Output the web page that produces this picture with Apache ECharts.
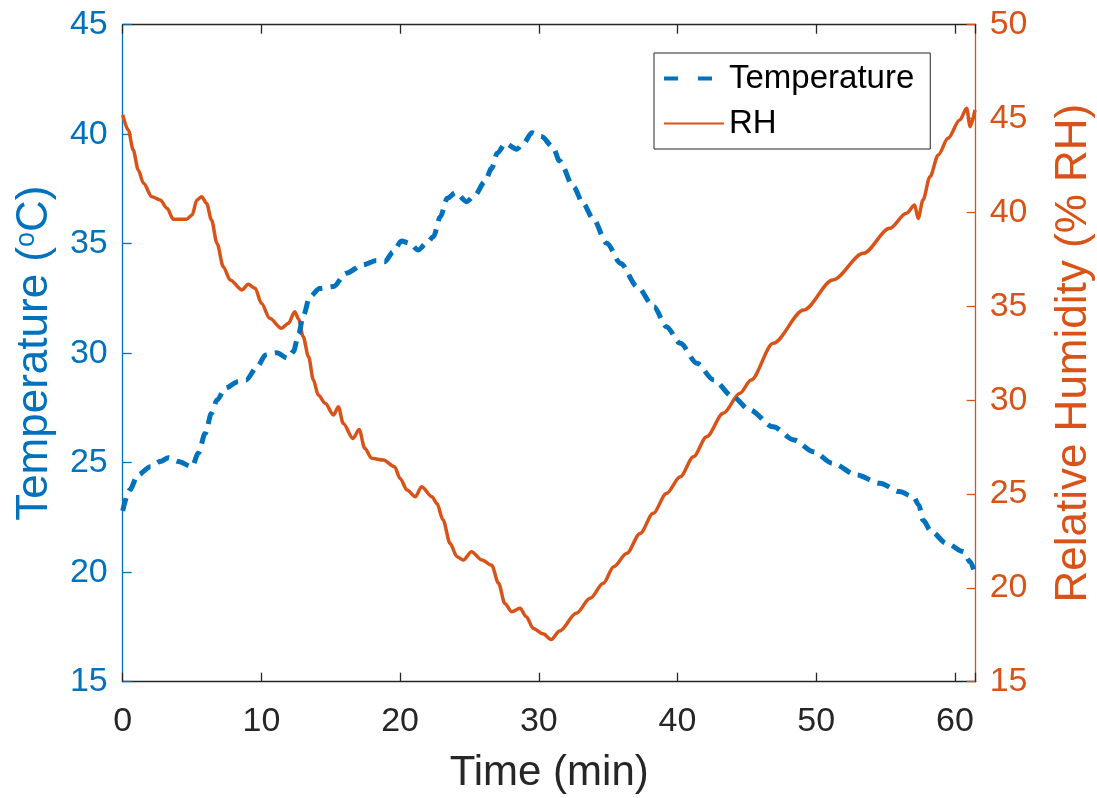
<!DOCTYPE html>
<html>
<head>
<meta charset="utf-8">
<script src="https://cdn.jsdelivr.net/npm/echarts@6/dist/echarts.min.js"></script>
<style>
html,body{margin:0;padding:0;background:#fff;}
#chart{width:1097px;height:798px;}
</style>
</head>
<body>
<div id="chart"></div>
<script>
// ---- Data ----
const tempTime = [0,0.5,1.1,2.0,2.7,3.3,4.0,5.0,5.45,5.95,6.4,6.8,7.4,8.3,8.9,9.7,10.3,11.1,11.9,12.3,12.7,13.0,13.5,14.2,15.2,16.1,17.3,18.3,18.9,19.5,20.1,20.7,21.3,21.9,22.4,22.9,23.4,24.0,24.8,25.4,26.1,26.6,27.0,27.6,28.4,28.9,29.5,30.2,31.0,31.5,32.5,33.2,33.9,34.9,35.9,37.1,38.3,39.2,40.2,41.4,42.6,44.0,45.2,46.9,48.4,49.8,51.2,52.9,54.6,56.0,57.0,57.4,57.7,58.3,59.4,60.6,61.1,61.5];
const tempValues = [22.8,23.75,24.44,24.82,25.05,25.23,25.05,24.82,25.43,26.34,27.26,27.86,28.4,28.7,28.78,29.38,29.92,30.02,29.77,30.07,30.91,31.67,32.58,32.96,33.04,33.65,34.03,34.23,34.18,34.63,35.12,35.02,34.71,35.02,35.32,36.23,37.07,37.33,36.92,37.22,37.83,38.44,39.13,39.58,39.31,39.58,40.07,39.89,39.43,38.78,37.6,36.84,36.16,35.02,34.1,33.04,32.12,31.21,30.45,29.54,28.78,28.01,27.41,26.64,26.04,25.5,24.97,24.44,24.06,23.68,23.45,23.07,22.38,21.85,21.32,20.94,20.48,19.8];

const rhTime = [0,0.4,0.76,1.12,1.5,2.1,2.7,3.2,3.65,4.6,5.0,5.35,5.7,6.05,6.4,6.8,7.25,7.75,8.6,9.05,9.55,10.0,10.6,11.45,11.95,12.4,12.7,13.0,13.4,13.75,14.1,14.6,15.2,15.55,15.9,16.6,17.05,17.45,17.95,18.8,19.6,20.0,20.5,21.1,21.55,22.3,22.65,23.1,23.6,24.1,24.55,25.15,25.9,26.6,27.1,27.55,28.05,28.65,29.1,29.6,30.3,30.9,31.5,32.7,33.7,34.65,35.4,36.35,37.3,38.25,39.2,40.2,41.15,42.1,43.3,44.5,45.3,46.9,49.1,51.2,53.4,55.3,56.5,57.1,57.35,57.7,58.2,58.8,59.5,60.35,60.85,61.1,61.45];
const rhValues = [45.2,44.39,43.32,42.26,41.55,40.84,40.66,40.22,39.63,39.63,39.86,40.66,40.84,40.48,39.6,38.35,37.11,36.4,35.87,36.17,35.96,35.16,34.36,33.83,34.09,34.71,34.3,33.4,32.31,31.07,30.27,29.83,29.21,29.65,28.76,27.96,28.44,27.43,26.9,26.81,26.45,25.83,25.21,24.85,25.39,24.85,24.5,23.61,22.37,21.66,21.48,21.92,21.48,21.21,20.24,19.17,18.73,18.91,18.46,17.84,17.55,17.25,17.7,18.64,19.44,20.24,21.12,21.84,22.9,23.97,25.03,25.92,26.98,28.05,29.3,30.36,31.07,33.03,34.8,36.4,37.82,39.15,39.95,40.39,39.68,40.66,41.9,43.06,43.95,44.92,45.55,44.57,45.46];

const xTickValues = [0,10,20,30,40,50,60];
const seriesNames = ['Temperature','RH'];

// ---- Chart ----
const FONT = 'Liberation Sans, Arial, Helvetica, sans-serif';
const BLUE = '#0072BD', ORANGE = '#D95319', DARK = '#262626';
const tempData = tempTime.map((t,i)=>[t,tempValues[i]]);
const rhData = rhTime.map((t,i)=>[t,rhValues[i]]);

const chart = echarts.init(document.getElementById('chart'), null, {renderer:'canvas'});
const xCommon = {
  type:'value', min:0, max:61.5, interval:10,
  splitLine:{show:false},
  axisLine:{show:true, onZero:false, lineStyle:{color:DARK, width:1.3}},
  axisTick:{show:true, inside:true, length:9, lineStyle:{color:DARK, width:1.3}}
};
chart.setOption({
  animation:false,
  backgroundColor:'#fff',
  textStyle:{fontFamily:FONT},
  grid:{left:122.7, right:121.3, top:24.7, bottom:116.3, containLabel:false, outerBoundsMode:'none'},
  legend:{
    orient:'vertical', left:654, top:53,
    padding:[9,16,9,8], itemGap:12, itemWidth:60, itemHeight:14,
    borderColor:DARK, borderWidth:1, backgroundColor:'#fff', borderRadius:0,
    textStyle:{fontSize:33, color:'#000', fontFamily:FONT},
    data:[
      {name:'Temperature', itemStyle:{opacity:0}, lineStyle:{type:[14,20], width:4, color:BLUE}},
      {name:'RH', itemStyle:{opacity:0}, lineStyle:{width:2, color:ORANGE}}
    ]
  },
  xAxis:[
    Object.assign({}, xCommon, {
      position:'bottom',
      axisLabel:{show:true, margin:23, fontSize:34, color:DARK, fontFamily:FONT,
        formatter:(v)=> xTickValues.indexOf(v) >= 0 ? String(v) : ''},
      name:'Time (min)', nameLocation:'middle', nameGap:71,
      nameTextStyle:{fontSize:42, color:DARK, fontFamily:FONT}
    }),
    Object.assign({}, xCommon, {position:'top', axisLabel:{show:false}})
  ],
  yAxis:[
    {
      type:'value', min:15, max:45, interval:5, position:'left',
      splitLine:{show:false},
      axisLine:{show:true, onZero:false, lineStyle:{color:BLUE, width:1.3}},
      axisTick:{show:true, inside:true, length:9, lineStyle:{color:BLUE, width:1.3}},
      axisLabel:{margin:15, fontSize:34, color:BLUE, fontFamily:FONT},
      name:'Temperature ({s|o}C)', nameLocation:'middle', nameGap:66, nameRotate:90,
      nameTextStyle:{fontSize:44, color:BLUE, fontFamily:FONT,
        rich:{s:{fontSize:27, color:BLUE, fontFamily:FONT, verticalAlign:'top', padding:[0,0,15,0]}}}
    },
    {
      type:'value', min:15, max:50, interval:5, position:'right',
      splitLine:{show:false},
      axisLine:{show:true, onZero:false, lineStyle:{color:ORANGE, width:1.3}},
      axisTick:{show:true, inside:true, length:9, lineStyle:{color:ORANGE, width:1.3}},
      axisLabel:{margin:14, fontSize:34, color:ORANGE, fontFamily:FONT},
      name:'Relative Humidity (% RH)', nameLocation:'middle', nameGap:76, nameRotate:90,
      nameTextStyle:{fontSize:44, color:ORANGE, fontFamily:FONT}
    }
  ],
  series:[
    {
      name:seriesNames[0], type:'line', xAxisIndex:0, yAxisIndex:0, data:tempData,
      showSymbol:false, symbol:'none', smooth:0.3, smoothMonotone:'x',
      lineStyle:{color:BLUE, width:5, type:[13,8]}, itemStyle:{color:BLUE}, z:3
    },
    {
      name:seriesNames[1], type:'line', xAxisIndex:0, yAxisIndex:1, data:rhData,
      showSymbol:false, symbol:'none', smooth:0.3, smoothMonotone:'x',
      lineStyle:{color:ORANGE, width:3.5}, itemStyle:{color:ORANGE}, z:2
    }
  ]
});
</script>
</body>
</html>
